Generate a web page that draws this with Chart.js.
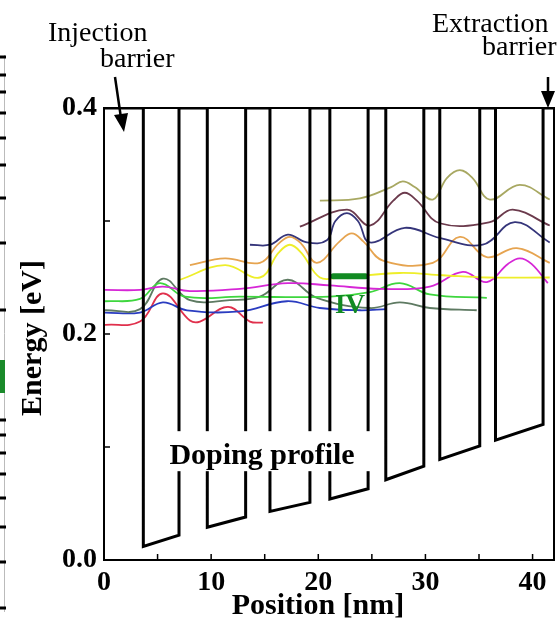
<!DOCTYPE html>
<html>
<head>
<meta charset="utf-8">
<script src="https://cdn.jsdelivr.net/npm/chart.js@4.4.1/dist/chart.umd.min.js"></script>
<style>
  html, body { margin: 0; padding: 0; background: #fff; }
  canvas { display: block; }
</style>
</head>
<body>
<canvas id="band" width="558" height="627"></canvas>
<script>
// conduction band: well edges [nm] and well bottoms [eV]
const wellLeft    = [3.67, 9.64, 15.49, 21.08, 26.30, 31.34, 36.54]
const wellRight   = [7.00, 13.22, 19.22, 24.65, 29.85, 35.07, 40.98]
const bottomLeft  = [0.012, 0.029, 0.043, 0.054, 0.071, 0.089, 0.106]
const bottomRight = [0.022, 0.038, 0.051, 0.063, 0.083, 0.101, 0.120]
const barrierTop  = 0.4

// wavefunctions (position nm / energy eV)
const redX = [0.09, 3.36, 5.50, 8.02, 8.96, 11.57, 13.62, 14.83]
const redY = [0.208, 0.211, 0.236, 0.212, 0.211, 0.224, 0.211, 0.210]
const blueX = [0.09, 3.36, 5.50, 7.74, 12.69, 17.07, 20.15, 23.88, 26.40]
const blueY = [0.219, 0.219, 0.228, 0.221, 0.220, 0.229, 0.223, 0.221, 0.222]
const greenX = [0.09, 3.36, 5.22, 7.56, 12.69, 21.08, 24.81, 27.61, 30.41, 35.73]
const greenY = [0.229, 0.231, 0.245, 0.233, 0.233, 0.233, 0.237, 0.245, 0.235, 0.232]
const grayX = [0.09, 3.36, 5.50, 8.02, 11.75, 14.55, 17.16, 19.87, 24.81, 27.61, 30.41, 34.79]
const grayY = [0.221, 0.222, 0.249, 0.230, 0.230, 0.233, 0.248, 0.232, 0.223, 0.228, 0.223, 0.221]
const magentaX = [0.09, 3.36, 5.50, 8.02, 12.69, 17.16, 21.08, 25.75, 30.41, 33.49, 35.73, 37.7, 38.81, 39.9, 41.42]
const magentaY = [0.239, 0.239, 0.242, 0.238, 0.240, 0.245, 0.243, 0.240, 0.242, 0.255, 0.246, 0.262, 0.267, 0.262, 0.245]
const yellowX = [7.09, 11.29, 14.55, 16.3, 17.35, 18.4, 20.15, 22.01, 27.61, 31.62, 35.73, 41.60]
const yellowY = [0.248, 0.261, 0.250, 0.272, 0.279, 0.272, 0.250, 0.250, 0.254, 0.252, 0.250, 0.250]
const orangeX = [8.02, 11.29, 14.55, 16.3, 17.35, 18.4, 19.87, 22.0, 23.13, 24.2, 26.03, 30.69, 33.21, 35.73, 38.53, 41.60]
const orangeY = [0.261, 0.267, 0.263, 0.280, 0.286, 0.280, 0.263, 0.282, 0.289, 0.282, 0.265, 0.263, 0.286, 0.268, 0.276, 0.263]
const navyX = [13.62, 15.49, 17.16, 18.94, 20.80, 21.6, 22.67, 23.7, 24.81, 28.08, 31.34, 35.35, 38.34, 41.60]
const navyY = [0.279, 0.279, 0.288, 0.281, 0.283, 0.300, 0.307, 0.300, 0.281, 0.294, 0.285, 0.279, 0.299, 0.281]
const maroonX = [18.28, 22.67, 24.81, 27.0, 28.08, 29.2, 31.34, 36.01, 38.15, 41.60]
const maroonY = [0.295, 0.310, 0.296, 0.318, 0.325, 0.318, 0.298, 0.299, 0.310, 0.296]
const oliveX = [20.15, 23.88, 26.8, 27.89, 29.0, 30.69, 32.0, 33.21, 34.4, 36.01, 38.81, 41.60]
const oliveY = [0.318, 0.320, 0.330, 0.335, 0.330, 0.319, 0.338, 0.345, 0.338, 0.319, 0.332, 0.319]

// level IV marker
const ivX = [21.4, 24.4]
const ivY = [0.251, 0.251]

const xTicks = [0, 10, 20, 30, 40]
const yTicks = [0.0, 0.2, 0.4]

const serif = 'Liberation Serif'
Chart.defaults.font.family = serif
Chart.defaults.color = '#000'

function pts(xs, ys) { return xs.map((v, i) => ({x: v, y: ys[i]})) }

// band edge as one polyline
const profile = [{x: 0, y: barrierTop}]
wellLeft.forEach((l, i) => {
  profile.push({x: l, y: barrierTop}, {x: l, y: bottomLeft[i]},
               {x: wellRight[i], y: bottomRight[i]}, {x: wellRight[i], y: barrierTop})
})
profile.push({x: 42, y: barrierTop})

function wave(xs, ys, color) {
  return {data: pts(xs, ys), borderColor: color, borderWidth: 1.8, showLine: true,
          pointRadius: 0, tension: 0.4, order: 2}
}

const decor = {
  id: 'decor',
  afterDatasetsDraw(chart) {
    const {ctx, chartArea: a, scales: {x, y}} = chart
    ctx.save()
    // doping profile label, box hides the walls behind it
    ctx.fillStyle = '#fff'
    ctx.fillRect(x.getPixelForValue(5.7), y.getPixelForValue(0.114), 207, 40)
    ctx.fillStyle = '#000'
    ctx.font = 'bold 30px ' + serif
    ctx.textAlign = 'center'
    ctx.textBaseline = 'alphabetic'
    ctx.fillText('Doping profile', x.getPixelForValue(14.75), y.getPixelForValue(0.085))

    // frame
    ctx.strokeStyle = '#000'
    ctx.lineWidth = 2
    ctx.strokeRect(a.left, a.top, a.right - a.left, a.bottom - a.top)
    // inward ticks
    ctx.lineWidth = 1.5
    ctx.beginPath()
    for (let v = 5; v <= 40; v += 5) {
      const px = x.getPixelForValue(v)
      ctx.moveTo(px, a.bottom); ctx.lineTo(px, a.bottom - 6)
    }
    for (const v of [0.1, 0.2, 0.3]) {
      const py = y.getPixelForValue(v)
      ctx.moveTo(a.left, py); ctx.lineTo(a.left + 6, py)
    }
    ctx.stroke()

    // axis titles
    ctx.font = 'bold 30px ' + serif
    ctx.textBaseline = 'middle'
    ctx.fillText('Position [nm]', 318, 606)
    ctx.save()
    ctx.translate(33, 338)
    ctx.rotate(-Math.PI / 2)
    ctx.fillText('Energy [eV]', 0, 0)
    ctx.restore()

    // IV label
    ctx.fillStyle = '#118a22'
    ctx.font = 'bold 27px ' + serif
    ctx.textAlign = 'left'
    ctx.textBaseline = 'alphabetic'
    ctx.fillText('IV', 335, 313)

    // barrier notes
    ctx.fillStyle = '#000'
    ctx.font = '28px ' + serif
    ctx.fillText('Injection', 48, 41)
    ctx.fillText('barrier', 100, 67)
    ctx.fillText('Extraction', 432, 32)
    ctx.fillText('barrier', 482, 55)

    // arrows
    ctx.lineWidth = 2.5
    ctx.beginPath()
    ctx.moveTo(115, 77); ctx.lineTo(121, 118)
    ctx.moveTo(548, 77); ctx.lineTo(548, 94)
    ctx.stroke()
    ctx.beginPath()
    ctx.moveTo(124, 132); ctx.lineTo(128, 113); ctx.lineTo(114, 115); ctx.closePath()
    ctx.moveTo(548, 108); ctx.lineTo(555, 91); ctx.lineTo(541, 91); ctx.closePath()
    ctx.fill()

    // cut edge of the neighbouring figure
    ctx.strokeStyle = '#bbb'
    ctx.lineWidth = 1
    ctx.beginPath(); ctx.moveTo(4.5, 55); ctx.lineTo(4.5, 612); ctx.stroke()
    ctx.fillStyle = '#000'
    for (const d of [57, 75, 92, 113, 138, 165, 198, 243, 310, 420, 435, 453, 474, 498, 527, 562, 608]) {
      ctx.fillRect(0, d - 1.5, 6, 3)
    }
    ctx.fillStyle = '#1a8a2a'
    ctx.fillRect(0, 360, 5, 33)
    ctx.restore()
  }
}

new Chart(document.getElementById('band'), {
  type: 'scatter',
  data: {
    datasets: [
      {data: profile, borderColor: '#000', borderWidth: 3, showLine: true, pointRadius: 0,
       tension: 0, borderJoinStyle: 'miter', order: 0},
      {data: pts(ivX, ivY), borderColor: '#118a22', borderWidth: 6, showLine: true,
       pointRadius: 0, borderCapStyle: 'round', order: 1},
      wave(oliveX, oliveY, '#a8a862'),
      wave(maroonX, maroonY, '#6b3a4c'),
      wave(navyX, navyY, '#35357a'),
      wave(orangeX, orangeY, '#e6a450'),
      wave(yellowX, yellowY, '#eeee2a'),
      wave(magentaX, magentaY, '#d626d6'),
      wave(greenX, greenY, '#3ed63e'),
      wave(grayX, grayY, '#5e7a62'),
      wave(blueX, blueY, '#2a3cc0'),
      wave(redX, redY, '#e0304c')
    ]
  },
  options: {
    responsive: false,
    animation: false,
    layout: {padding: {top: 108, right: 4, left: 0, bottom: 0}},
    plugins: {legend: {display: false}, tooltip: {enabled: false}},
    scales: {
      x: {
        type: 'linear', min: 0, max: 42,
        afterBuildTicks: s => { s.ticks = xTicks.map(v => ({value: v})) },
        afterFit: s => { s.height = 67 },
        grid: {display: false, drawTicks: false},
        border: {display: false},
        ticks: {padding: 6, font: {size: 28, weight: 'bold'}, maxRotation: 0}
      },
      y: {
        type: 'linear', min: 0, max: 0.4,
        afterBuildTicks: s => { s.ticks = yTicks.map(v => ({value: v})) },
        afterFit: s => { s.width = 104 },
        grid: {display: false, drawTicks: false},
        border: {display: false},
        ticks: {padding: 7, font: {size: 28, weight: 'bold'}, callback: v => v.toFixed(1)}
      }
    }
  },
  plugins: [decor]
})
</script>
</body>
</html>
